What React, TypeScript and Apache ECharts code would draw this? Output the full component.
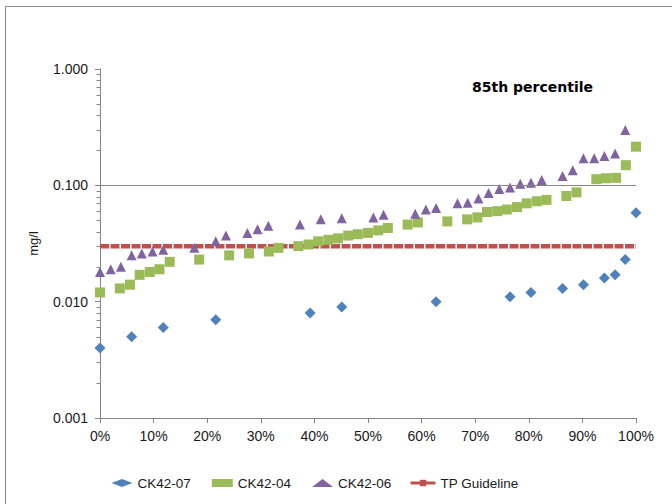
import React, { useEffect, useRef } from "react";
import * as echarts from "echarts";

// Percentile rank (%) and concentration (mg/l) for each site
const ck4207X = [0, 5.9, 11.8, 21.6, 39.2, 45.1, 62.7, 76.5, 80.4, 86.3, 90.2, 94.1, 96.1, 98.0, 100];
const ck4207Y = [0.004, 0.005, 0.006, 0.007, 0.008, 0.009, 0.010, 0.011, 0.012, 0.013, 0.014, 0.016, 0.017, 0.023, 0.058];

const ck4204X = [0, 3.7, 5.6, 7.4, 9.3, 11.1, 13.0, 18.5, 24.1, 27.8, 31.5, 33.3, 37.0, 38.9, 40.7, 42.6, 44.4, 46.3, 48.1, 50.0, 51.9, 53.7, 57.4, 59.3, 64.8, 68.5, 70.4, 72.2, 74.1, 75.9, 77.8, 79.6, 81.5, 83.3, 87.0, 88.9, 92.6, 94.4, 96.3, 98.1, 100];
const ck4204Y = [0.012, 0.013, 0.014, 0.017, 0.018, 0.019, 0.022, 0.023, 0.025, 0.026, 0.027, 0.029, 0.030, 0.031, 0.033, 0.034, 0.035, 0.037, 0.038, 0.039, 0.041, 0.043, 0.046, 0.048, 0.049, 0.051, 0.053, 0.059, 0.060, 0.062, 0.065, 0.070, 0.073, 0.075, 0.081, 0.087, 0.113, 0.115, 0.116, 0.149, 0.215];

const ck4206X = [0, 2.0, 3.9, 5.9, 7.8, 9.8, 11.8, 17.6, 21.6, 23.5, 27.5, 29.4, 31.4, 37.3, 41.2, 45.1, 51.0, 52.9, 58.8, 60.8, 62.7, 66.7, 68.6, 70.6, 72.5, 74.5, 76.5, 78.4, 80.4, 82.4, 86.3, 88.2, 90.2, 92.2, 94.1, 96.1, 98.0];
const ck4206Y = [0.018, 0.019, 0.020, 0.025, 0.026, 0.027, 0.028, 0.029, 0.033, 0.037, 0.039, 0.042, 0.045, 0.046, 0.051, 0.052, 0.053, 0.056, 0.057, 0.062, 0.064, 0.070, 0.071, 0.077, 0.086, 0.093, 0.096, 0.103, 0.105, 0.111, 0.120, 0.135, 0.171, 0.171, 0.179, 0.188, 0.299];

const guidelineX = [0, 100];
const guidelineValue = 0.03;
const referenceLine = 0.1;

const yMin = 0.001;
const yMax = 1;
const minorTickValues = [
  0.002, 0.003, 0.004, 0.005, 0.006, 0.007, 0.008, 0.009,
  0.02, 0.03, 0.04, 0.05, 0.06, 0.07, 0.08, 0.09,
  0.2, 0.3, 0.4, 0.5, 0.6, 0.7, 0.8, 0.9,
];

const titleText = "85th percentile";
const yName = "mg/l";

const FONT = "Liberation Sans, Arial, sans-serif";
const AXIS_COLOR = "#868686";
const TEXT_COLOR = "#1a1a1a";

const zip = (xs: number[], ys: number[]) => xs.map((x, i) => [x, ys[i]]);

export default function App() {
  const ref = useRef<HTMLDivElement>(null);

  useEffect(() => {
    if (!ref.current) return;
    const chart = echarts.init(ref.current, undefined, { renderer: "svg" });
    chart.setOption({
      animation: false,
      backgroundColor: "#ffffff",
      title: {
        text: titleText,
        left: 472,
        top: 80,
        padding: 0,
        textStyle: { fontFamily: "DejaVu Sans", fontWeight: "bold", fontSize: 14, color: "#000" },
      },
      grid: { left: 100, right: 36, top: 69, bottom: 86 },
      xAxis: {
        type: "value",
        min: 0,
        max: 100,
        interval: 10,
        axisLine: { show: true, onZero: false, lineStyle: { color: AXIS_COLOR } },
        axisTick: { show: true, length: 5, lineStyle: { color: AXIS_COLOR } },
        axisLabel: { formatter: "{value}%", margin: 11, fontSize: 14, color: TEXT_COLOR, fontFamily: FONT },
        splitLine: { show: false },
      },
      yAxis: {
        type: "log",
        logBase: 10,
        min: yMin,
        max: yMax,
        name: yName,
        nameLocation: "middle",
        nameGap: 60,
        nameTextStyle: { fontSize: 13, fontFamily: FONT, color: TEXT_COLOR },
        axisLine: { show: true, lineStyle: { color: AXIS_COLOR } },
        axisTick: { show: true, length: 5, lineStyle: { color: AXIS_COLOR } },
        axisLabel: {
          formatter: (v: number) => v.toFixed(3),
          margin: 12,
          fontSize: 14,
          color: TEXT_COLOR,
          fontFamily: FONT,
        },
        splitLine: { show: false },
      },
      legend: [
        {
          data: ["CK42-07", "CK42-04", "CK42-06"],
          left: 111.5,
          top: 476,
          padding: 0,
          itemWidth: 21,
          itemHeight: 8,
          itemGap: 21,
          textStyle: { fontSize: 13.5, fontFamily: FONT, color: TEXT_COLOR },
        },
        {
          data: [{ name: "TP Guideline", lineStyle: { type: "solid", width: 3 } }],
          left: 409,
          top: 476,
          padding: 0,
          itemWidth: 25,
          itemHeight: 8,
          textStyle: { fontSize: 13.5, fontFamily: FONT, color: TEXT_COLOR },
        },
      ],
      series: [
        {
          type: "line",
          name: "TP Guideline",
          data: guidelineX.map((x) => [x, guidelineValue]),
          symbol: "rect",
          showSymbol: false,
          z: 2,
          itemStyle: { color: "#C0504D" },
          lineStyle: { color: "#C0504D", width: 4.5, type: [9, 1.5] },
          markLine: {
            silent: true,
            symbol: "none",
            label: { show: false },
            lineStyle: { color: AXIS_COLOR, type: "solid", width: 1 },
            data: [{ yAxis: referenceLine }],
          },
        },
        {
          type: "scatter",
          name: "CK42-07",
          data: zip(ck4207X, ck4207Y),
          symbol: "diamond",
          symbolSize: 11,
          z: 3,
          itemStyle: { color: "#4F81BD", opacity: 1 },
        },
        {
          type: "scatter",
          name: "CK42-04",
          data: zip(ck4204X, ck4204Y),
          symbol: "rect",
          symbolSize: 10,
          z: 3,
          itemStyle: { color: "#9BBB59", opacity: 1 },
        },
        {
          type: "scatter",
          name: "CK42-06",
          data: zip(ck4206X, ck4206Y),
          symbol: "triangle",
          symbolSize: 10,
          z: 3,
          itemStyle: { color: "#8064A2", opacity: 1 },
        },
      ],
    });

    // Minor (2..9) log ticks on the y axis, positioned through the chart's own scale
    const graphics: any[] = [
      {
        type: "rect",
        silent: true,
        z: -10,
        shape: { x: 5.5, y: 6.5, width: 700, height: 600 },
        style: { fill: "none", stroke: AXIS_COLOR, lineWidth: 1 },
      },
    ];
    minorTickValues.forEach((v) => {
      const p = chart.convertToPixel({ gridIndex: 0 }, [0, v]) as number[];
      if (!p) return;
      const y = Math.round(p[1]) + 0.5;
      const x = Math.round(p[0]) + 0.5;
      graphics.push({
        type: "line",
        silent: true,
        shape: { x1: x - 4, y1: y, x2: x, y2: y },
        style: { stroke: AXIS_COLOR, lineWidth: 1 },
      });
    });
    chart.setOption({ graphic: graphics });

    return () => chart.dispose();
  }, []);

  return (
    <div
      ref={ref}
      style={{ position: "fixed", left: 0, top: 0, width: 672, height: 504, background: "#fff" }}
    />
  );
}
